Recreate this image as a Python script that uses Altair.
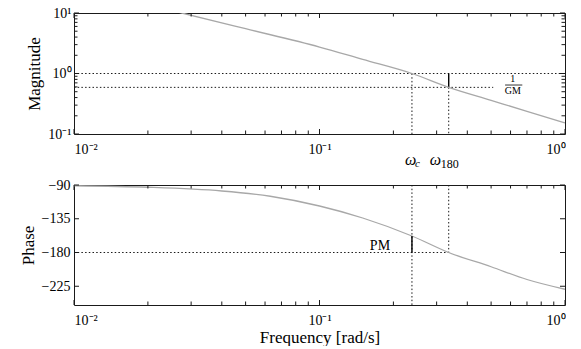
import altair as alt
import pandas as pd

# Open-loop frequency response
freq_mag = [0.02, 0.0275, 0.05, 0.1, 0.15, 0.238, 0.336, 0.5, 0.7, 1.0]
magnitude = [13.7, 10.0, 5.5, 2.74, 1.71, 1.0, 0.59, 0.36, 0.237, 0.152]

freq_phase = [0.01, 0.02, 0.04, 0.063, 0.1, 0.15, 0.238, 0.336, 0.5, 0.7, 1.0]
phase = [-91, -93, -98, -105, -118, -134, -158, -180, -199, -216, -229]

# Crossover points and margins
w_c = 0.238          # gain crossover frequency
w_180 = 0.336        # phase crossover frequency
inv_gm = 0.59        # |L(j w_180)| = 1/GM
phase_c = -158       # phase at w_c

# Tick positions
x_major = [0.01, 0.1, 1.0]
x_minor = [0.02, 0.03, 0.04, 0.05, 0.06, 0.07, 0.08, 0.09,
           0.2, 0.3, 0.4, 0.5, 0.6, 0.7, 0.8, 0.9]
mag_major = [0.1, 1.0, 10.0]
mag_minor = [0.2, 0.3, 0.4, 0.5, 0.6, 0.7, 0.8, 0.9,
             2, 3, 4, 5, 6, 7, 8, 9]
phase_ticks = [-90, -135, -180, -225]

W = 491
H1 = 121
H2 = 120
INK = "#1a1a1a"
CURVE = "#a8a8a8"
SERIF = "Liberation Serif"
DOT = [1.5, 2.2]

xs = alt.Scale(type="log", domain=[0.01, 1.0], nice=False)
ms = alt.Scale(type="log", domain=[0.1, 10.0], nice=False)
ps = alt.Scale(domain=[-250, -90], nice=False, zero=False)

x_label_expr = ("datum.value < 0.05 ? '10\u207b\u00b2' : "
                "(datum.value < 0.5 ? '10\u207b\u00b9' : '10\u2070')")
mag_label_expr = ("datum.value < 0.5 ? '10\u207b\u00b9' : "
                  "(datum.value < 5 ? '10\u2070' : '10\u00b9')")

label_style = dict(labelFont=SERIF, labelFontSize=14, labelColor="black",
                   ticks=False, domain=False, grid=False)
title_style = dict(titleFont=SERIF, titleFontSize=17, titleFontWeight="normal",
                   titleColor="black")

x_axis_top = alt.Axis(title=None, values=x_major, labelExpr=x_label_expr,
                      labelPadding=8, **label_style)
x_axis_bot = alt.Axis(title="Frequency [rad/s]", values=x_major, labelExpr=x_label_expr,
                      labelPadding=8, titlePadding=2, **title_style, **label_style)
m_axis = alt.Axis(title="Magnitude", values=mag_major, labelExpr=mag_label_expr,
                  labelPadding=3, titlePadding=4, **title_style, **label_style)
p_axis = alt.Axis(title="Phase", values=phase_ticks,
                  labelExpr="replace(toString(datum.value), '-', '\u2212')",
                  labelPadding=4, titlePadding=4, **title_style, **label_style)


def X(ax):
    return alt.X("f:Q", scale=xs, axis=ax)


def x_tick_layers(vals, length, height, ax):
    base = alt.Chart(pd.DataFrame({"f": vals})).mark_rule(color=INK, strokeWidth=1)
    top = base.encode(x=X(ax), y=alt.value(0), y2=alt.value(length))
    bot = base.encode(x=X(ax), y=alt.value(height), y2=alt.value(height - length))
    return [top, bot]


def y_tick_layers(vals, length, y_enc):
    field = y_enc.shorthand.split(":")[0]
    base = alt.Chart(pd.DataFrame({field: vals})).mark_rule(color=INK, strokeWidth=1)
    left = base.encode(y=y_enc, x=alt.value(0), x2=alt.value(length))
    right = base.encode(y=y_enc, x=alt.value(W), x2=alt.value(W - length))
    return [left, right]


# ---------------- magnitude panel ----------------
XM = X(x_axis_top)
YM = alt.Y("m:Q", scale=ms, axis=m_axis)

mag_df = pd.DataFrame({"f": freq_mag, "m": magnitude})
mag_line = alt.Chart(mag_df).mark_line(color=CURVE, strokeWidth=1.3, clip=True,
                                       interpolate="monotone").encode(x=XM, y=YM)

# dotted reference lines in the magnitude panel
hlines_mag = pd.DataFrame({"f": [0.01, 0.01], "f2": [1.0, 0.51], "m": [1.0, inv_gm]})
mag_h = alt.Chart(hlines_mag).mark_rule(color=INK, strokeDash=DOT, strokeWidth=1).encode(
    x=XM, x2="f2:Q", y=YM)
vlines_mag = pd.DataFrame({"f": [w_c, w_180], "m": [1.0, inv_gm], "m2": [0.1, 0.1]})
mag_v = alt.Chart(vlines_mag).mark_rule(color=INK, strokeDash=DOT, strokeWidth=1).encode(
    x=XM, y=YM, y2="m2:Q")
gm_bar = alt.Chart(pd.DataFrame({"f": [w_180], "m": [1.0], "m2": [inv_gm]})).mark_rule(
    color="black", strokeWidth=1.4).encode(x=XM, y=YM, y2="m2:Q")

# 1/GM fraction label
frac_df = pd.DataFrame({"f": [0.613], "m": [0.645]})
frac_base = alt.Chart(frac_df).encode(x=XM, y=YM)
frac_num = frac_base.mark_text(text="1", font=SERIF, fontSize=10, dy=-6, color="black")
frac_den = frac_base.mark_text(text="GM", font=SERIF, fontSize=10, dy=6, color="black")
frac_bar = alt.Chart(pd.DataFrame({"f": [0.57], "f2": [0.67], "m": [0.645]})).mark_rule(
    color="black", strokeWidth=0.8).encode(x=XM, x2="f2:Q", y=YM)

# omega labels under the magnitude panel
om_c = alt.Chart(pd.DataFrame({"f": [w_c]}))
om_180 = alt.Chart(pd.DataFrame({"f": [w_180]}))
omega_layers = [
    om_c.mark_text(text="\u03c9", font=SERIF, fontSize=16, fontStyle="italic",
                   align="left", baseline="middle", dx=-7, color="black").encode(
        x=XM, y=alt.value(147)),
    om_c.mark_text(text="c", font=SERIF, fontSize=11, fontStyle="italic",
                   align="left", baseline="middle", dx=3, color="black").encode(
        x=XM, y=alt.value(151)),
    om_180.mark_text(text="\u03c9", font=SERIF, fontSize=16, fontStyle="italic",
                     align="left", baseline="middle", dx=-19, color="black").encode(
        x=XM, y=alt.value(147)),
    om_180.mark_text(text="180", font=SERIF, fontSize=12,
                     align="left", baseline="middle", dx=-8, color="black").encode(
        x=XM, y=alt.value(151)),
]

mag_panel = alt.layer(
    mag_h, mag_v, gm_bar, mag_line, frac_num, frac_den, frac_bar,
    *x_tick_layers(x_major, 5, H1, x_axis_top),
    *x_tick_layers(x_minor, 3.5, H1, x_axis_top),
    *y_tick_layers(mag_major, 5, YM), *y_tick_layers(mag_minor, 3.5, YM),
    *omega_layers,
).properties(width=W, height=H1)

# ---------------- phase panel ----------------
XP = X(x_axis_bot)
YP = alt.Y("p:Q", scale=ps, axis=p_axis)

ph_df = pd.DataFrame({"f": freq_phase, "p": phase})
ph_line = alt.Chart(ph_df).mark_line(color=CURVE, strokeWidth=1.3, clip=True,
                                     interpolate="monotone").encode(x=XP, y=YP)
ph_h = alt.Chart(pd.DataFrame({"f": [0.01], "f2": [w_180], "p": [-180]})).mark_rule(
    color=INK, strokeDash=DOT, strokeWidth=1).encode(x=XP, x2="f2:Q", y=YP)
ph_v = alt.Chart(pd.DataFrame({"f": [w_c, w_180], "p": [-90, -90], "p2": [-250, -180]})).mark_rule(
    color=INK, strokeDash=DOT, strokeWidth=1).encode(x=XP, y=YP, y2="p2:Q")
pm_bar = alt.Chart(pd.DataFrame({"f": [w_c], "p": [-180], "p2": [phase_c]})).mark_rule(
    color="black", strokeWidth=1.4).encode(x=XP, y=YP, y2="p2:Q")
pm_text = alt.Chart(pd.DataFrame({"f": [w_c], "p": [-171]})).mark_text(
    text="PM", font=SERIF, fontSize=14, dx=-32, baseline="middle", color="black").encode(
    x=XP, y=YP)

ph_panel = alt.layer(
    ph_v, ph_h, ph_line, pm_bar, pm_text,
    *x_tick_layers(x_major, 5, H2, x_axis_bot),
    *x_tick_layers(x_minor, 3.5, H2, x_axis_bot),
    *y_tick_layers(phase_ticks, 5, YP),
).properties(width=W, height=H2)

chart = alt.vconcat(mag_panel, ph_panel, spacing=51, bounds="flush").properties(
    padding={"left": 18, "top": 5, "right": 0, "bottom": 0},
    background="white",
).configure_view(stroke=INK, strokeWidth=1)

chart.save("out.html", embed_options={"renderer": "svg", "actions": False})
